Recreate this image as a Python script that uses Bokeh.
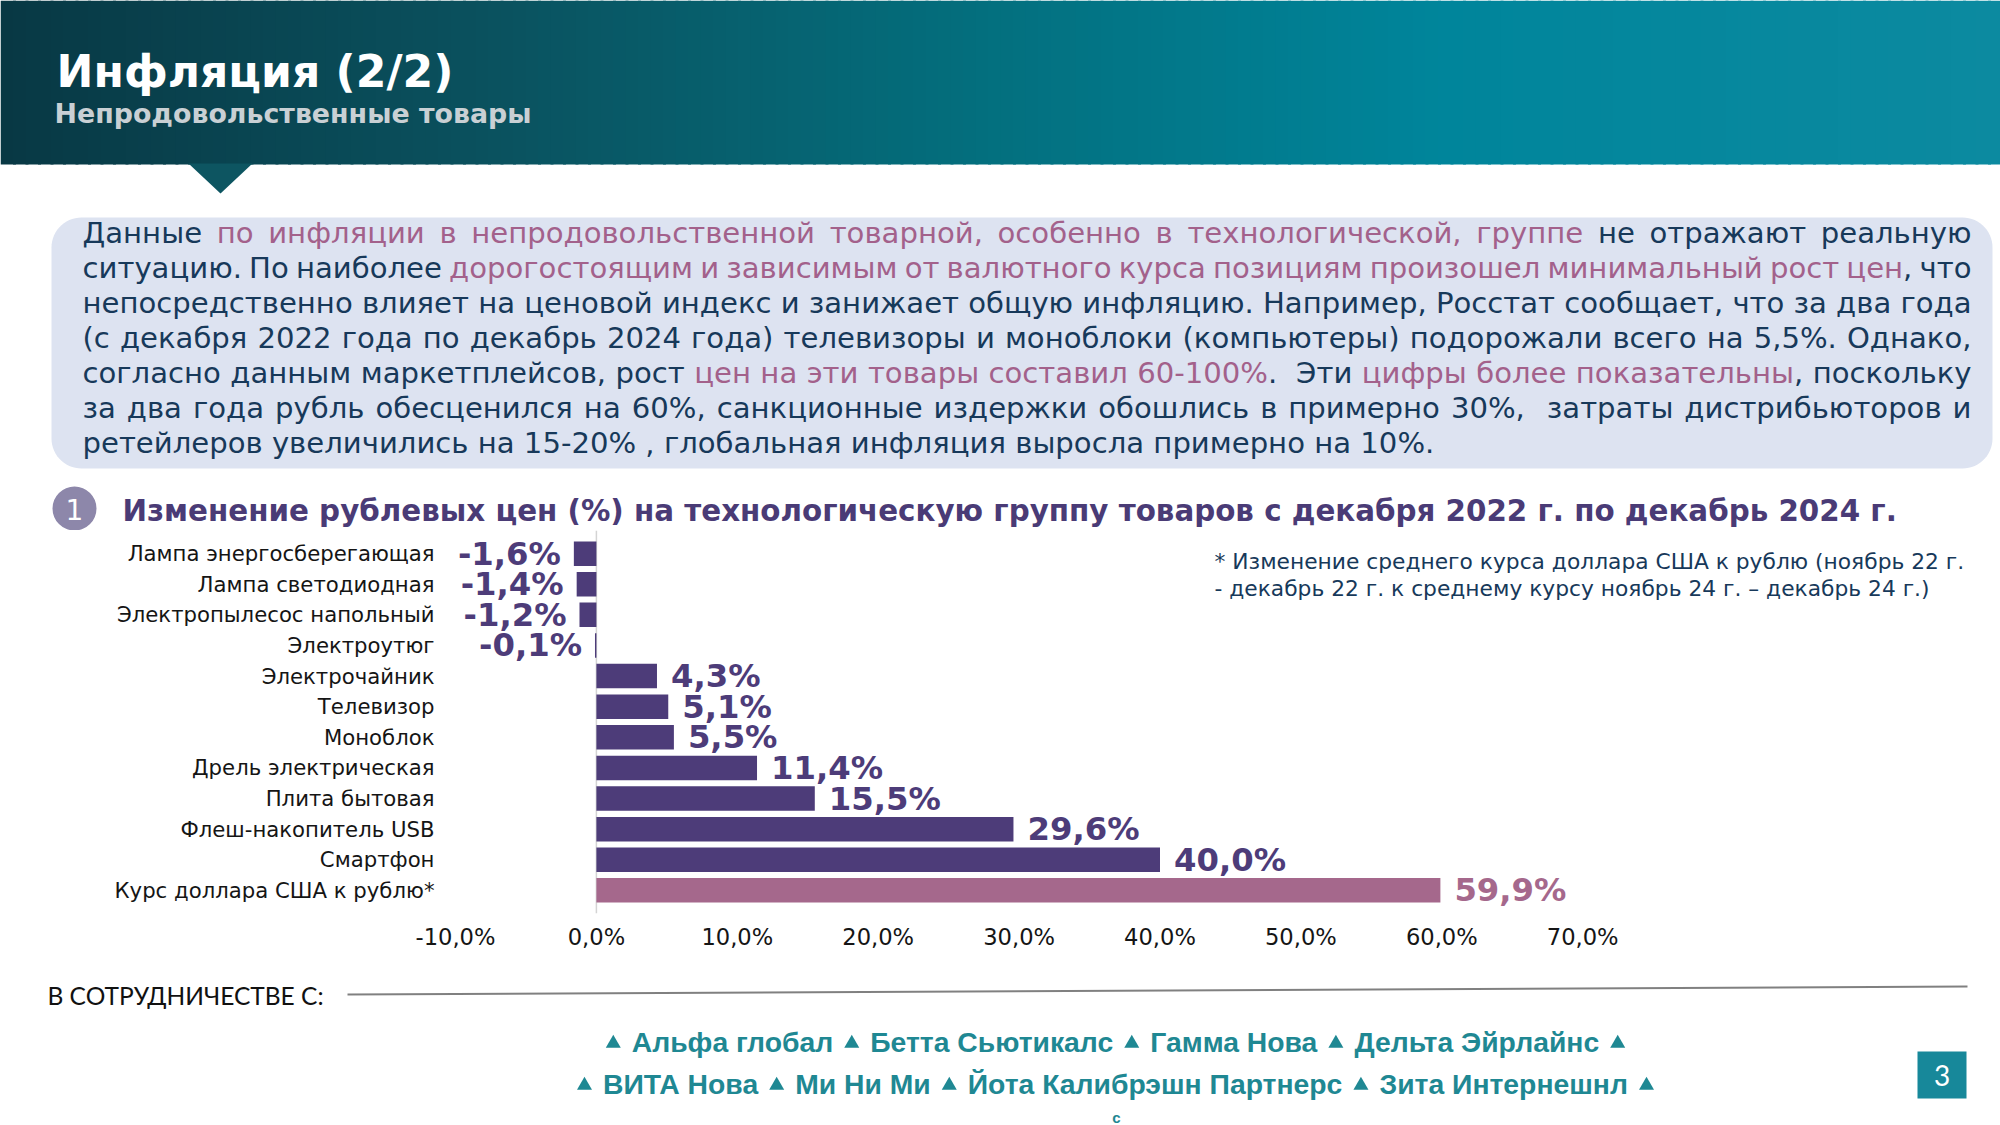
import glob
import os
import numpy as np
from bokeh.plotting import figure
from bokeh.models import (ColumnDataSource, Range1d, FactorRange, FixedTicker,
                          CustomJSTickFormatter, Span, CustomJSTransform)
from bokeh.transform import transform
from bokeh.embed import file_html
from bokeh.resources import INLINE
from bokeh.core.properties import value

# ---------------------------------------------------------------- data
CATEGORIES = [
    "Лампа энергосберегающая",
    "Лампа светодиодная",
    "Электропылесос напольный",
    "Электроутюг",
    "Электрочайник",
    "Телевизор",
    "Моноблок",
    "Дрель электрическая",
    "Плита бытовая",
    "Флеш-накопитель USB",
    "Смартфон",
    "Курс доллара США к рублю*",
]
VALUES = [-1.6, -1.4, -1.2, -0.1, 4.3, 5.1, 5.5, 11.4, 15.5, 29.6, 40.0, 59.9]
REFERENCE_CATEGORY = "Курс доллара США к рублю*"
TICKS = [-10, 0, 10, 20, 30, 40, 50, 60, 70]
TICK_LABELS = ["-10,0%", "0,0%", "10,0%", "20,0%", "30,0%", "40,0%", "50,0%", "60,0%", "70,0%"]

TITLE = "Инфляция (2/2)"
SUBTITLE = "Непродовольственные товары"
CHART_NUMBER = "1"
CHART_TITLE = ("Изменение рублевых цен (%) на технологическую группу товаров "
               "с декабря 2022 г. по декабрь 2024 г.")
NOTE_LINES = [
    "* Изменение среднего курса доллара США к рублю (ноябрь 22 г.",
    "- декабрь 22 г. к среднему курсу ноябрь 24 г. – декабрь 24 г.)",
]
# {...} marks the highlighted (mauve) parts
PARAGRAPH = [
    "Данные {по инфляции в непродовольственной товарной, особенно в технологической, группе} не отражают реальную",
    "ситуацию. По наиболее {дорогостоящим и зависимым от валютного курса позициям произошел минимальный рост цен}, что",
    "непосредственно влияет на ценовой индекс и занижает общую инфляцию. Например, Росстат сообщает, что за два года",
    "(с декабря 2022 года по декабрь 2024 года) телевизоры и моноблоки (компьютеры) подорожали всего на 5,5%. Однако,",
    "согласно данным маркетплейсов, рост {цен на эти товары составил 60-100%}.  Эти {цифры более показательны}, поскольку",
    "за два года рубль обесценился на 60%, санкционные издержки обошлись в примерно 30%,  затраты дистрибьюторов и",
    "ретейлеров увеличились на 15-20% , глобальная инфляция выросла примерно на 10%.",
]
FOOTER_LABEL = "В СОТРУДНИЧЕСТВЕ С:"
PARTNERS_ROW1 = ["Альфа глобал", "Бетта Сьютикалс", "Гамма Нова", "Дельта Эйрлайнс"]
PARTNERS_ROW2 = ["ВИТА Нова", "Ми Ни Ми", "Йота Калибрэшн Партнерс", "Зита Интернешнл"]
FOOTER_SMALL = "с"
PAGE_NUMBER = "3"

# ---------------------------------------------------------------- styles
NAVY = "#17395a"
MAUVE = "#a3618b"
BAR_COLOR = "#4d3c79"
BAR_REF_COLOR = "#a5688c"
TITLE_PURPLE = "#4a3b76"
TEAL_TEXT = "#1f8893"
BOX_FILL = "#dde3f1"
FONT = "DejaVu Sans"

# ---------------------------------------------------------------- font metrics (for sizing only)
try:
    from PIL import ImageFont
except Exception:
    ImageFont = None


def find_font(names):
    roots = ["/usr/share/fonts", "/usr/local/share/fonts",
             os.path.expanduser("~/.fonts"), os.path.expanduser("~/.local/share/fonts")]
    for nm in names:
        for r in roots:
            hits = glob.glob(os.path.join(r, "**", nm), recursive=True)
            if hits:
                return hits[0]
    return None


DEJAVU = find_font(["DejaVuSans.ttf"])
DEJAVU_B = find_font(["DejaVuSans-Bold.ttf"])
NARROW_B = find_font(["LiberationSansNarrow-Bold.ttf"])
NARROW_FAMILY = "Liberation Sans Narrow"
if NARROW_B is None:
    NARROW_B = find_font(["LiberationSans-Bold.ttf"])
    NARROW_FAMILY = "Liberation Sans"
LATO = find_font(["Lato-Regular.ttf"])

_fonts = {}


def tw(text, path, size):
    if ImageFont is None or path is None:
        return None
    if path not in _fonts:
        try:
            _fonts[path] = ImageFont.truetype(path, 200)
        except Exception:
            _fonts[path] = None
    f = _fonts[path]
    if f is None:
        return None
    return f.getlength(text) * size / 200.0


def fit(text, target, path, default):
    w = tw(text, path, 100)
    if not w:
        return default
    return round(100.0 * target / w, 2)


def px(s):
    return f"{s}px"


def blank(fig):
    fig.grid.visible = False
    fig.outline_line_color = None
    fig.background_fill_color = "white"
    fig.border_fill_color = "white"


def pixel_figure(y0, y1):
    f = figure(width=2000, height=y1 - y0, x_range=Range1d(0, 2000), y_range=Range1d(y1, y0),
               output_backend="svg", toolbar_location=None, title=None,
               x_axis_location=None, y_axis_location=None,
               min_border_left=0, min_border_right=0, min_border_top=0, min_border_bottom=0)
    blank(f)
    return f


# ---------------------------------------------------------------- top figure
TOP_H = 530
p_top = pixel_figure(0, TOP_H)

HEADER_STOPS = [(0.0, (8, 56, 68)), (0.25, (10, 82, 95)), (0.5, (3, 112, 127)),
                (0.72, (0, 133, 155)), (1.0, (12, 138, 160))]
n = 160
edges = np.linspace(0, 2000, n + 1)
mids = (edges[:-1] + edges[1:]) / 2 / 2000
sx = [s[0] for s in HEADER_STOPS]
cols = []
for m in mids:
    rgb = [int(round(np.interp(m, sx, [s[1][k] for s in HEADER_STOPS]))) for k in range(3)]
    cols.append("#%02x%02x%02x" % tuple(rgb))
p_top.quad(left=edges[:-1], right=edges[1:] + 3, top=0, bottom=164, color=cols, line_color=None)
p_top.patch(x=[188, 252, 220], y=[163, 163, 193], color="#0d5561", line_color=None)

p_top.text(x=[56], y=[71], text=[TITLE], text_font=value(FONT), text_font_style="bold",
           text_font_size=px(fit(TITLE, 397, DEJAVU_B, 44)), text_color="white",
           text_baseline="middle", text_align="left")
p_top.text(x=[54], y=[113], text=[SUBTITLE], text_font=value(FONT), text_font_style="bold",
           text_font_size=px(fit(SUBTITLE, 477, DEJAVU_B, 27)), text_color="#c9d0d4",
           text_baseline="middle", text_align="left")


def rounded_rect(l, t, r, b, rad, k=16):
    xs, ys = [], []
    for cx, cy, a0, a1 in [(r - rad, t + rad, -90, 0), (r - rad, b - rad, 0, 90),
                           (l + rad, b - rad, 90, 180), (l + rad, t + rad, 180, 270)]:
        for a in np.linspace(np.radians(a0), np.radians(a1), k):
            xs.append(cx + rad * np.cos(a))
            ys.append(cy + rad * np.sin(a))
    return xs, ys


bx, by = rounded_rect(51, 217, 1992, 468, 30)
p_top.patch(x=bx, y=by, color=BOX_FILL, line_color=None)

# justified paragraph: words are measured in the browser and spread over the line
P_LEFT, P_RIGHT, P_TOP, P_STEP = 82, 1971, 232, 35.1
P_SIZE = fit(PARAGRAPH[-1].replace("{", "").replace("}", ""), 1352, DEJAVU, 29.15)


def tokens_of(line):
    chars, hl = [], False
    for ch in line:
        if ch == "{":
            hl = True
        elif ch == "}":
            hl = False
        else:
            chars.append((ch, hl))
    toks = [[]]
    for ch, h in chars:
        if ch == " ":
            toks.append([])
        else:
            toks[-1].append((ch, h))
    out = []
    for tok in toks:
        pcs = []
        for ch, h in tok:
            if pcs and pcs[-1][1] == h:
                pcs[-1][0] += ch
            else:
                pcs.append([ch, h])
        out.append(pcs)
    return out


para = dict(li=[], ti=[], y=[], text=[], color=[])
ntok = []
for li, line in enumerate(PARAGRAPH):
    toks = tokens_of(line)
    ntok.append(len(toks))
    for ti, tok in enumerate(toks):
        for s, h in tok:
            para["li"].append(li)
            para["ti"].append(ti)
            para["y"].append(P_TOP + li * P_STEP)
            para["text"].append(s)
            para["color"].append(MAUVE if h else NAVY)
para_src = ColumnDataSource(para)

JUSTIFY = """
const ctx = document.createElement("canvas").getContext("2d");
ctx.font = font;
const text = src.data["text"], li = src.data["li"], ti = src.data["ti"];
const n = text.length;
const w = new Array(n);
for (let i = 0; i < n; i++) w[i] = ctx.measureText(text[i]).width;
const space = ctx.measureText(" ").width;
const tokw = [];
for (let L = 0; L < ntok.length; L++) tokw.push(new Array(ntok[L]).fill(0));
for (let i = 0; i < n; i++) tokw[li[i]][ti[i]] += w[i];
const start = [];
for (let L = 0; L < ntok.length; L++) {
  const tot = tokw[L].reduce((a, b) => a + b, 0);
  const ns = Math.max(ntok[L] - 1, 1);
  const gap = (L == last) ? space : (right - left - tot) / ns;
  let x = left;
  const s = [];
  for (let t = 0; t < ntok[L]; t++) { s.push(x); x += tokw[L][t] + gap; }
  start.push(s);
}
const out = new Float64Array(n);
const acc = {};
for (let i = 0; i < n; i++) {
  const key = li[i] + "_" + ti[i];
  const off = acc[key] || 0;
  out[i] = start[li[i]][ti[i]] + off;
  acc[key] = off + w[i];
}
return out;
"""
justify = CustomJSTransform(
    args=dict(src=para_src, ntok=ntok, left=P_LEFT, right=P_RIGHT, last=len(PARAGRAPH) - 1,
              font=f"{P_SIZE}px '{FONT}'"),
    v_func=JUSTIFY)
p_top.text(x=transform("li", justify), y="y", text="text", text_color="color", source=para_src,
           text_font=value(FONT), text_font_size=px(P_SIZE),
           text_baseline="middle", text_align="left")

# chart heading
p_top.scatter(x=[74], y=[508], size=44, marker="circle", fill_color="#8d87aa", line_color=None)
p_top.text(x=[74], y=[509], text=[CHART_NUMBER], text_font=value(FONT),
           text_font_size="28px", text_color="white", text_align="center", text_baseline="middle")
p_top.text(x=[122], y=[510], text=[CHART_TITLE], text_font=value(FONT), text_font_style="bold",
           text_font_size=px(fit(CHART_TITLE, 1775, DEJAVU_B, 29.4)), text_color=TITLE_PURPLE,
           text_align="left", text_baseline="middle")

# ---------------------------------------------------------------- chart figure
PX_PER_PCT = 14.09
AXIS_START_PX = 455          # screen x of the first tick (-10 %)
FRAME_LEFT, FRAME_RIGHT = 436, 1990
CHART_H = 960 - TOP_H
BOTTOM_BORDER = 47
PAD_PX = 4                   # empty space above the first and below the last row
frame_h = CHART_H - BOTTOM_BORDER
ROW_PX = (frame_h - 2 * PAD_PX) / len(CATEGORIES)
x_start = TICKS[0] - (AXIS_START_PX - FRAME_LEFT) / PX_PER_PCT
x_end = TICKS[0] + (FRAME_RIGHT - AXIS_START_PX) / PX_PER_PCT

p = figure(width=2000, height=CHART_H, x_range=Range1d(x_start, x_end),
           y_range=FactorRange(factors=list(reversed(CATEGORIES)),
                               range_padding=2 * PAD_PX / ROW_PX, range_padding_units="absolute"),
           output_backend="svg", toolbar_location=None, title=None,
           min_border_left=FRAME_LEFT, min_border_right=2000 - FRAME_RIGHT,
           min_border_top=0, min_border_bottom=BOTTOM_BORDER)
blank(p)

colors = [BAR_REF_COLOR if c == REFERENCE_CATEGORY else BAR_COLOR for c in CATEGORIES]
labels = [f"{v:.1f}".replace(".", ",") + "%" for v in VALUES]
src = ColumnDataSource(dict(cat=CATEGORIES, val=VALUES, color=colors, label=labels))

zero = Span(location=0, dimension="height", line_color="#d4d4d4", line_width=1.5, level="underlay")
p.add_layout(zero)
p.hbar(y="cat", left=0, right="val", height=0.8, fill_color="color", line_color=None, source=src)

LAB_SIZE = fit("-1,6%", 103, DEJAVU_B, 32)
pos = [i for i, v in enumerate(VALUES) if v >= 0]
neg = [i for i, v in enumerate(VALUES) if v < 0]
src_pos = ColumnDataSource({k: [src.data[k][i] for i in pos] for k in src.data})
src_neg = ColumnDataSource({k: [src.data[k][i] for i in neg] for k in src.data})
p.text(x="val", y="cat", text="label", text_color="color", source=src_pos, x_offset=14,
       text_align="left", text_baseline="middle", text_font=value(FONT),
       text_font_style="bold", text_font_size=px(LAB_SIZE))
p.text(x="val", y="cat", text="label", text_color="color", source=src_neg, x_offset=-13,
       text_align="right", text_baseline="middle", text_font=value(FONT),
       text_font_style="bold", text_font_size=px(LAB_SIZE))

p.xaxis.ticker = FixedTicker(ticks=TICKS)
p.xaxis.formatter = CustomJSTickFormatter(
    args=dict(t=TICKS, l=TICK_LABELS),
    code="for (let i = 0; i < t.length; i++) { if (Math.abs(t[i] - tick) < 1e-6) return l[i]; } return '';")
p.xaxis.axis_line_color = None
p.xaxis.major_tick_line_color = None
p.xaxis.minor_tick_line_color = None
p.xaxis.major_tick_out = 0
p.xaxis.major_label_standoff = 10
p.xaxis.major_label_text_font = FONT
p.xaxis.major_label_text_font_size = px(fit("-10,0%", 80, DEJAVU, 23))
p.xaxis.major_label_text_color = "#151515"

p.yaxis.axis_line_color = None
p.yaxis.major_tick_line_color = None
p.yaxis.major_tick_out = 0
p.yaxis.major_label_standoff = FRAME_LEFT - 434
p.yaxis.major_label_text_font = FONT
p.yaxis.major_label_text_font_size = px(fit(CATEGORIES[0], 307, DEJAVU, 21.4))
p.yaxis.major_label_text_color = "#151515"

# footnote, anchored to the first row (pixel offsets from its centre)
NOTE_SIZE = fit(NOTE_LINES[0], 750, DEJAVU, 21.8)
note_x = TICKS[0] + (1214 - AXIS_START_PX) / PX_PER_PCT
row0_centre = TOP_H + PAD_PX + ROW_PX / 2
p.text(x=[note_x, note_x], y=[CATEGORIES[0], CATEGORIES[0]], text=NOTE_LINES,
       y_offset=[557 - row0_centre, 584 - row0_centre],
       text_font=value(FONT), text_font_size=px(NOTE_SIZE), text_color=NAVY,
       text_align="left", text_baseline="middle")

# ---------------------------------------------------------------- footer figure
BOT_Y0 = TOP_H + CHART_H
p_bot = pixel_figure(BOT_Y0, 1125)

p_bot.text(x=[47], y=[995], text=[FOOTER_LABEL], text_font=value("Lato"),
           text_font_size=px(fit(FOOTER_LABEL, 276, LATO, 24.4)), text_color="#111111",
           text_align="left", text_baseline="middle")
p_bot.segment(x0=[347], y0=[994], x1=[1967], y1=[986], line_color="#808080", line_width=2)

# partner rows: names as text, separators as small triangle markers, row centred
TRI = 15
SEP = 11
names_w100 = [tw(nm, NARROW_B, 100) for nm in PARTNERS_ROW2]
if all(w is not None for w in names_w100):
    PART_SIZE = round(100.0 * (1077 - 5 * TRI - 8 * SEP) / sum(names_w100), 2)
else:
    PART_SIZE = 27.5


def name_w(nm):
    w = tw(nm, NARROW_B, PART_SIZE)
    return w if w is not None else len(nm) * 0.55 * PART_SIZE


part = dict(x=[], y=[], text=[])
tri = dict(x=[], y=[])
for names, yrow in [(PARTNERS_ROW1, 1041), (PARTNERS_ROW2, 1083)]:
    widths = [name_w(nm) for nm in names]
    total = sum(widths) + (len(names) + 1) * TRI + 2 * len(names) * SEP
    x = 1115 - total / 2
    for nm, w in zip(names, widths):
        tri["x"].append(x + TRI / 2)
        tri["y"].append(yrow + 2)
        x += TRI + SEP
        part["x"].append(x)
        part["y"].append(yrow)
        part["text"].append(nm)
        x += w + SEP
    tri["x"].append(x + TRI / 2)
    tri["y"].append(yrow + 2)

p_bot.text(x="x", y="y", text="text", source=ColumnDataSource(part), text_font=value(NARROW_FAMILY),
           text_font_style="bold", text_font_size=px(PART_SIZE), text_color=TEAL_TEXT,
           text_align="left", text_baseline="middle")
p_bot.scatter(x="x", y="y", source=ColumnDataSource(tri), marker="triangle", size=TRI,
              fill_color=TEAL_TEXT, line_color=None)
p_bot.text(x=[1116], y=[1117], text=[FOOTER_SMALL], text_font=value(NARROW_FAMILY),
           text_font_style="bold", text_font_size="15px", text_color=TEAL_TEXT,
           text_align="center", text_baseline="middle")
p_bot.quad(left=[1917], right=[1966], top=[1051], bottom=[1098], color="#17889a", line_color=None)
p_bot.text(x=[1941.5], y=[1075], text=[PAGE_NUMBER], text_font=value("Lato"), text_font_size="28px",
           text_color="white", text_align="center", text_baseline="middle")

# three independent roots stacked vertically (no frame alignment between them)
open("out.html", "w").write(file_html([p_top, p, p_bot], INLINE))
